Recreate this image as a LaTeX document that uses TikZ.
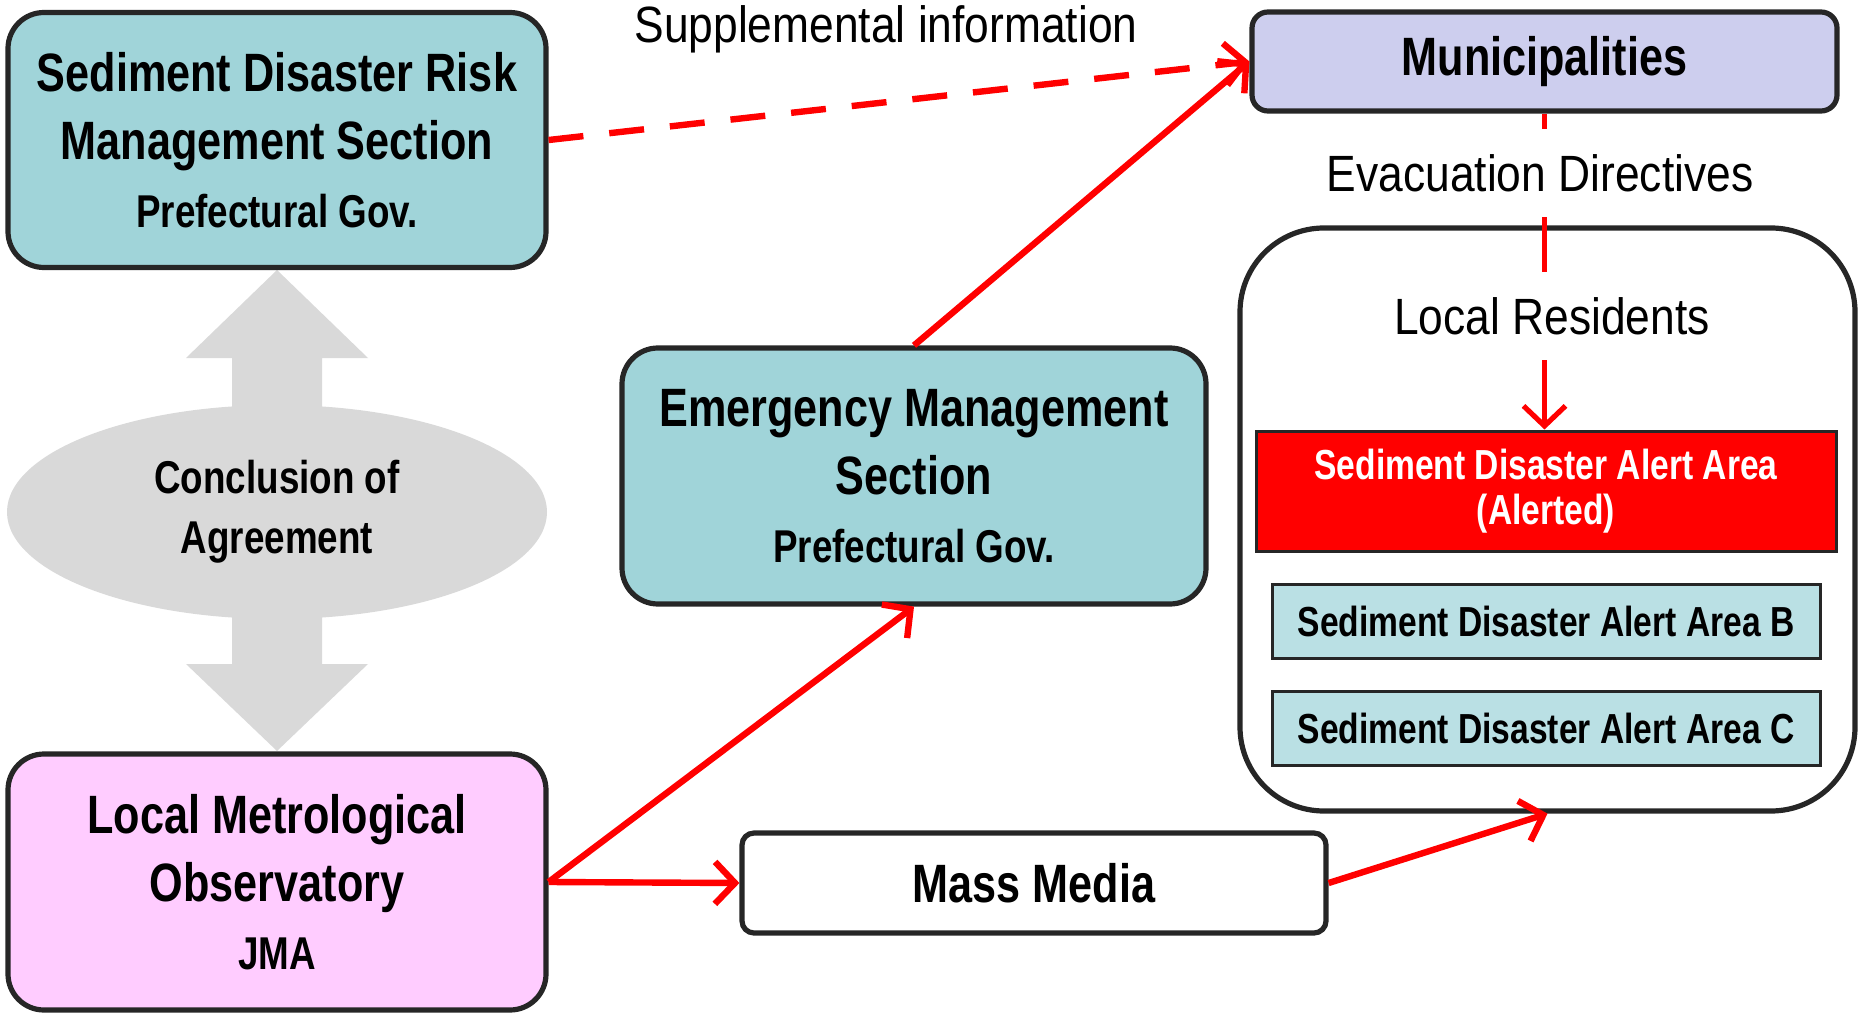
\documentclass[tikz,border=0pt]{standalone}
\usepackage{fontspec}
\setmainfont{Liberation Sans}
\newfontfamily\hdfont{Liberation Sans}[FakeStretch=0.8]
\newfontfamily\ltfont{Liberation Sans}[FakeStretch=0.87]
\usetikzlibrary{arrows.meta,shapes.geometric,positioning}
\definecolor{sectteal}{RGB}{160,212,217}
\definecolor{munilav}{RGB}{205,206,238}
\definecolor{jmapink}{RGB}{255,204,255}
\definecolor{areablue}{RGB}{186,224,228}
\definecolor{agreegray}{RGB}{217,217,217}
\definecolor{edgegray}{RGB}{38,38,38}

\begin{document}
\begin{tikzpicture}[x=0.5pt,y=-0.5pt,
   orgbox/.style={draw=edgegray,line width=2.6pt,rounded corners=18pt,inner sep=0pt,align=center,
     font=\hdfont\bfseries\fontsize{27}{34}\selectfont},
   areabox/.style={draw=edgegray,line width=1.5pt,fill=areablue,minimum width=274pt,minimum height=37pt,
     inner sep=0pt,font=\hdfont\bfseries\fontsize{21}{25}\selectfont},
   redarrow/.style={red,line width=3.2pt,-{Straight Barb[length=10pt,width=21pt]}},
   lbl/.style={inner sep=0pt,minimum height=44pt,font=\ltfont\fontsize{25.5}{30}\selectfont}]
   \useasboundingbox (0,0) rectangle (1858,1016);
   \fill[agreegray] (277,270) -- (368,358) -- (322,358) -- (322,664) -- (368,664) -- (277,751)
      -- (186,664) -- (232,664) -- (232,358) -- (186,358) -- cycle;
   \node[ellipse,fill=agreegray,inner sep=0pt,minimum width=270pt,minimum height=107pt,align=center,
      font=\hdfont\bfseries\fontsize{23}{30}\selectfont] (agree) at (277,512)
      {\raisebox{-3pt}{Conclusion of}\\\raisebox{-3pt}{Agreement}};
   \node[orgbox,fill=sectteal,minimum width=269pt,minimum height=127.5pt] (risk) at (277,140)
      {Sediment Disaster Risk\\Management Section\\{\fontsize{23}{28}\selectfont Prefectural Gov.}};
   \node[orgbox,fill=sectteal,minimum width=292pt,minimum height=128pt] (ems) at (914,476)
      {Emergency Management\\Section\\{\fontsize{23}{28}\selectfont Prefectural Gov.}};
   \node[orgbox,fill=jmapink,minimum width=269pt,minimum height=128pt] (jma) at (277,882)
      {Local Metrological\\Observatory\\{\fontsize{23}{28}\selectfont JMA}};
   \node[orgbox,fill=munilav,rounded corners=8pt,minimum width=292.5pt,minimum height=49.5pt] (muni)
      at (1544.5,61.5) {Municipalities};
   \node[orgbox,fill=white,rounded corners=6pt,minimum width=292pt,minimum height=50pt] (media)
      at (1034,883) {Mass Media};
   \node[draw=edgegray,line width=2.6pt,rounded corners=42pt,minimum width=307.5pt,minimum height=291.5pt]
      (residents) at (1547.5,519.5) {};
   \node[lbl] (supp) at (886,29) {Supplemental information};
   \node[lbl] (evac) at (1540,173) {Evacuation Directives};
   \node[lbl] (reslabel) at (1552,316) {Local Residents};
   \node[areabox,fill=red,text=white,align=center,minimum width=290pt,minimum height=60pt,
      font=\hdfont\bfseries\fontsize{21}{22.5}\selectfont] (alerted) at (1546,491)
      {\raisebox{-3pt}{Sediment Disaster Alert Area}\\\raisebox{-3pt}{(Alerted)}};
   \node[areabox] (areab) [below=15pt of alerted] {Sediment Disaster Alert Area B};
   \node[areabox] (areac) [below=15pt of areab] {Sediment Disaster Alert Area C};
   \draw[redarrow,dash pattern=on 17.5pt off 13pt] (risk.east) -- (muni.west);
   \draw[redarrow] (ems.north) -- (muni.west);
   \draw[redarrow] (jma.east) -- (ems.south);
   \draw[redarrow] (jma.east) -- (media.west);
   \draw[redarrow] (media.east) -- (residents.south);
   \draw[red,line width=2.6pt] (muni.south) -- (muni.south |- evac.north);
   \draw[red,line width=2.6pt] (muni.south |- evac.south) -- (muni.south |- reslabel.north);
   \draw[redarrow,line width=2.6pt] (muni.south |- reslabel.south) -- (muni.south |- alerted.north);
\end{tikzpicture}
\end{document}
